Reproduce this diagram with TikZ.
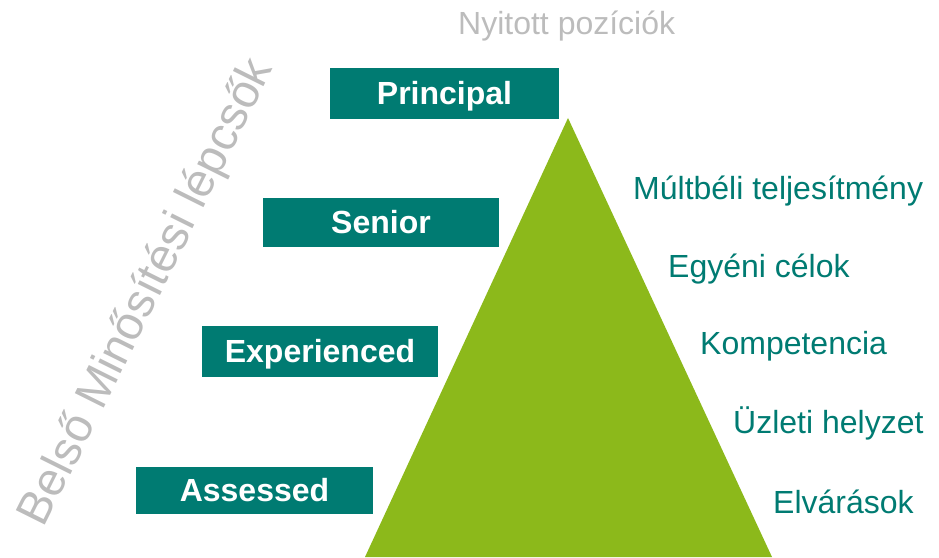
\documentclass[tikz,border=0pt]{standalone}
\usepackage{fontspec}
\setmainfont{Liberation Sans}
\definecolor{teal}{HTML}{007B72}
\definecolor{leaf}{HTML}{8CB91B}
\definecolor{lgray}{HTML}{BCBCBC}
\begin{document}
\begin{tikzpicture}[x=1pt,y=1pt,
  levelbox/.style={fill=teal, text=white, inner sep=0pt, font=\fontsize{32}{38}\selectfont\bfseries,
    text height=23pt, text depth=0pt},
  factor/.style={anchor=base west, inner sep=0pt, text=teal, font=\fontsize{32}{38}\selectfont},
  grayt/.style={inner sep=0pt, text=lgray, font=\fontsize{32}{38}\selectfont}]
\useasboundingbox (0,0) rectangle (939,557);
% pyramid
\coordinate (apex) at (568,439);
\coordinate (bl) at (365,0);
\coordinate (br) at (772,0);
\fill[leaf] (apex) -- (br) -- (bl) -- cycle;
% level boxes
\node[levelbox, minimum width=229pt, minimum height=51pt] (principal) at (444.5,463.5) {Principal};
\node[levelbox, minimum width=236pt, minimum height=49pt] (senior) at (381,334.5) {Senior};
\node[levelbox, minimum width=236pt, minimum height=51pt] (experienced) at (320,205.5) {Experienced};
\node[levelbox, minimum width=237pt, minimum height=47pt] (assessed) at (254.5,67) {Assessed};
% factors
\node[factor] (f1) at (633,357) {Múltbéli teljesítmény};
\node[factor] (f2) at (668,279) {Egyéni célok};
\node[factor] (f3) at (700,202) {Kompetencia};
\node[factor] (f4) at (733,124) {Üzleti helyzet};
\node[factor] (f5) at (773,44) {Elvárások};
% titles
\node[grayt, anchor=base west] (open) at (458,522) {Nyitott pozíciók};
\node[grayt, rotate=63.5, font=\fontsize{47}{55}\selectfont] (steps) at (147.5,264) {Belső Minősítési lépcsők};
\end{tikzpicture}
\end{document}
